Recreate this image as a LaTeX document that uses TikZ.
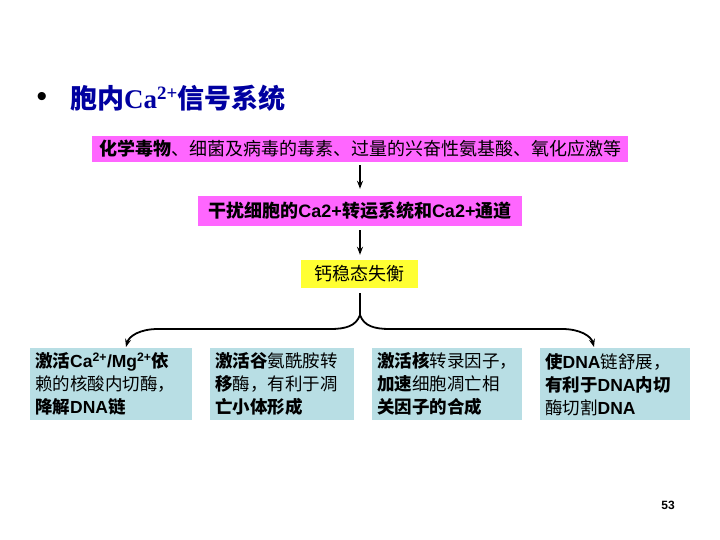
\documentclass[tikz,border=0pt]{standalone}
\usepackage{fontspec}
\usepackage{tikz}
\usetikzlibrary{arrows.meta}
\setmainfont{Noto Sans CJK SC}
\newfontfamily\lat{Liberation Sans}
\newfontfamily\latrm{Liberation Serif}
\newcommand\la[1]{{\lat\bfseries #1}}
\definecolor{boxpink}{RGB}{255,102,255}
\definecolor{boxyellow}{RGB}{255,255,51}
\definecolor{boxblue}{RGB}{184,222,228}
\definecolor{titleblue}{RGB}{0,0,160}

\begin{document}
\begin{tikzpicture}[x=1pt,y=-1pt,
    pinkbox/.style={fill=boxpink,inner sep=0pt,font=\fontsize{18}{22}\selectfont},
    effect/.style={fill=boxblue,inner xsep=5pt,inner ysep=0pt,anchor=north west,
      align=left,minimum height=72pt,font=\fontsize{17.5}{23}\selectfont},
    flow/.style={-{Stealth[length=8pt,width=6pt]},line width=1.3pt},
    brace/.style={line width=1.8pt}]
  \useasboundingbox (0,0) rectangle (720,540);

  % title
  \node (dot) at (42,99) {\fontsize{30}{30}\selectfont\lat •};
  \node[anchor=west,text=titleblue,inner sep=0pt] (title) at (70,98)
    {\fontsize{27}{27}\selectfont\bfseries 胞内{\latrm Ca\textsuperscript{2+}}信号系统};

  % causes
  \node[pinkbox,minimum width=536pt,minimum height=26pt] (cause) at (360,149)
    {\textbf{化学毒物}、细菌及病毒的毒素、过量的兴奋性氨基酸、氧化应激等};
  \node[pinkbox,minimum width=324pt,minimum height=30pt] (disturb) at (360,211)
    {\bfseries 干扰细胞的\la{Ca2+}转运系统和\la{Ca2+}通道};
  \node[fill=boxyellow,inner sep=0pt,minimum width=117pt,minimum height=28pt,
    font=\fontsize{18}{22}\selectfont] (loss) at (359,274) {钙稳态失衡};

  % effects
  \node[effect,text width=152pt] (e1) at (30,348)
    {\textbf{激活}\la{Ca\textsuperscript{2+}/Mg\textsuperscript{2+}}\textbf{依}\\
     赖的核酸内切酶，\\
     \textbf{降解}\la{DNA}\textbf{链}};
  \node[effect,text width=134pt] (e2) at (210,348)
    {\textbf{激活谷}氨酰胺转\\
     \textbf{移}酶，有利于凋\\
     \textbf{亡小体形成}};
  \node[effect,text width=140pt] (e3) at (372,348)
    {\textbf{激活核}转录因子，\\
     \textbf{加速}细胞凋亡相\\
     \textbf{关因子的合成}};
  \node[effect,text width=140pt] (e4) at (540,348)
    {\textbf{使}\la{DNA}链舒展，\\
     \textbf{有利于}\la{DNA}\textbf{内切}\\
     酶切割\la{DNA}};

  \node (page) at (668,505) {\fontsize{12}{12}\selectfont\la{53}};

  % arrows
  \draw[flow,shorten <=3pt,shorten >=7pt] (cause) -- (disturb);
  \draw[flow,shorten <=4pt,shorten >=5pt] (disturb.south) -- (disturb.south |- loss.north);

  \coordinate (fork) at (360,315);
  \coordinate (l) at (126,347);
  \coordinate (r) at (594,347);
  \draw[brace,shorten <=5pt] (fork |- loss.south) -- (fork);
  \draw[brace,-{Stealth[length=8pt,width=6pt]}] (fork)
    .. controls (356,326) and (346,329) .. (330,329) -- (158,329)
    .. controls (140,329) and (129,336) .. (l);
  \draw[brace,-{Stealth[length=8pt,width=6pt]}] (fork)
    .. controls (364,326) and (374,329) .. (390,329) -- (562,329)
    .. controls (580,329) and (591,336) .. (r);
\end{tikzpicture}
\end{document}
